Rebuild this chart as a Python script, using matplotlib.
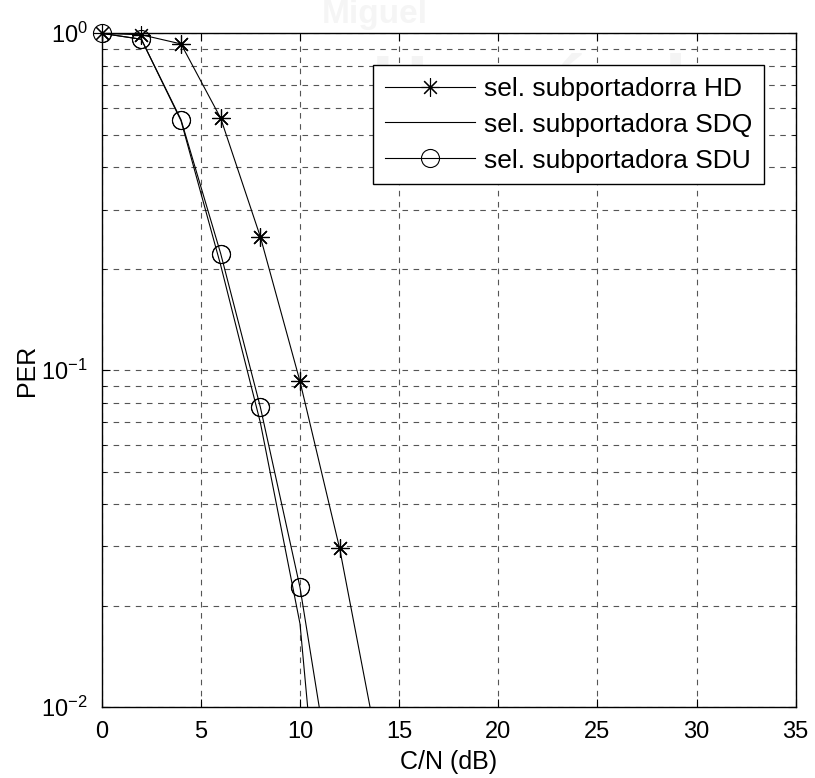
import matplotlib.pyplot as plt
import numpy as np

plt.rcParams['font.family'] = ['Liberation Sans', 'DejaVu Sans']
plt.rcParams['axes.unicode_minus'] = False

# C/N (dB)
snr = [0, 2, 4, 6, 8, 10, 12, 14]
per_hd = [1.0, 0.99, 0.93, 0.56, 0.249, 0.0927, 0.0296, 0.0072]
snr_sd = [0, 2, 4, 6, 8, 10, 12]
per_sdq = [1.0, 0.96, 0.55, 0.205, 0.070, 0.0177, 0.00093]
per_sdu = [1.0, 0.96, 0.554, 0.222, 0.0778, 0.0227, 0.0042]

labels = ['sel. subportadorra HD', 'sel. subportadora SDQ', 'sel. subportadora SDU']
xticks = [0, 5, 10, 15, 20, 25, 30, 35]

star = (8, 2, 0)  # matlab-like asterisk

fig = plt.figure(figsize=(8.15, 7.78), dpi=100)

# faint watermark behind everything
fig.text(0.70, 0.885, 'Hernández', color='#f4f4f4', fontsize=56, fontweight='bold',
         ha='center', va='center', zorder=-10)
fig.text(0.46, 0.982, 'Miguel', color='#f5f5f5', fontsize=24, fontweight='bold',
         ha='center', va='center', zorder=-10)

ax = fig.add_axes([0.1248, 0.0909, 0.8515, 0.8663])
ax.patch.set_alpha(0)

ax.semilogy(snr, per_hd, '-', marker=star, color='black', lw=0.8, ms=13, mew=0.8, label=labels[0])
ax.semilogy(snr_sd, per_sdq, '-', color='black', lw=0.8, label=labels[1])
ax.semilogy(snr_sd, per_sdu, '-o', color='black', lw=0.8, ms=13, mew=0.8,
            mfc='none', label=labels[2])

# markers on the axis edge drawn unclipped, as matlab does
hd = np.array(per_hd)
sdu = np.array(per_sdu)
ax.plot(np.array(snr)[hd >= 0.01], hd[hd >= 0.01], ls='none', marker=star, color='black',
        ms=13, mew=0.8, clip_on=False)
ax.plot(np.array(snr_sd)[sdu >= 0.01], sdu[sdu >= 0.01], ls='none', marker='o', color='black',
        ms=13, mew=0.8, mfc='none', clip_on=False)

ax.set_xlim(0, 35)
ax.set_ylim(0.01, 1)
ax.set_xticks(xticks)
ax.grid(True, which='both', linestyle=(0, (5, 5)), color='#555555', lw=0.8)
ax.tick_params(which='both', direction='in', top=True, right=True, labelsize=17)
ax.tick_params(axis='x', pad=10)
ax.tick_params(axis='y', pad=10)
ax.tick_params(which='major', length=6)
ax.tick_params(which='minor', length=3)
for s in ax.spines.values():
    s.set_linewidth(1.0)

ax.set_xlabel('C/N (dB)', fontsize=18, labelpad=5)
ax.set_ylabel('PER', fontsize=18, labelpad=2)

leg = ax.legend(loc='upper right', bbox_to_anchor=(0.9543, 0.953), fontsize=19,
                fancybox=False, framealpha=1, edgecolor='black', handlelength=3.4,
                borderpad=0.45, labelspacing=0.45, borderaxespad=0, handletextpad=0.35)
leg.get_frame().set_linewidth(1.0)

fig.savefig('out.png', dpi=100)
